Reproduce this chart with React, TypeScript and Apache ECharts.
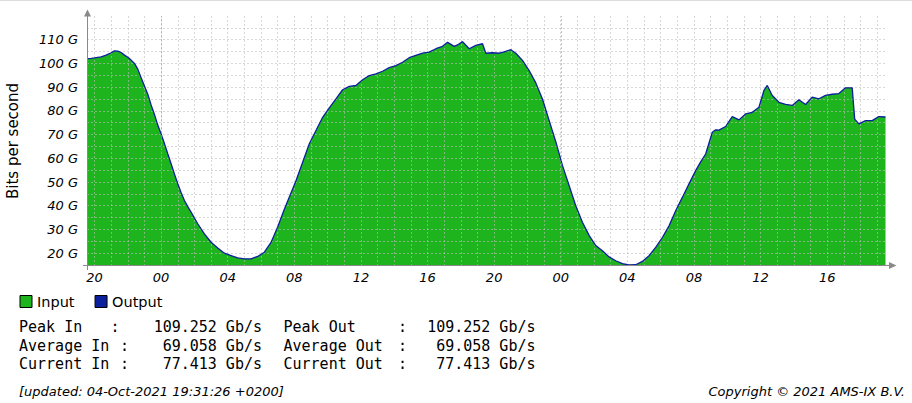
import React, { useEffect, useRef } from 'react';
import * as echarts from 'echarts';

// Time in hours counted from 02-Oct-2021 00:00 (so 24 = 03-Oct 00:00, 48 = 04-Oct 00:00)
const hours = [
  19.55, 19.8, 20.0, 20.4, 20.7, 21.0, 21.2, 21.4, 21.6, 21.8, 22.0, 22.2, 22.4, 22.6, 22.8,
  23.0, 23.2, 23.4, 23.6, 23.8, 24.0, 24.2, 24.4, 24.6, 24.8, 25.0, 25.2, 25.4, 25.6, 25.8,
  26.0, 26.2, 26.6, 27.0, 27.4, 27.8, 28.2, 28.6, 29.0, 29.4, 29.8, 30.2, 30.6, 31.0, 31.4,
  31.75, 32.1, 32.5, 32.9, 33.3, 33.7, 34.1, 34.5, 34.9, 35.3, 35.7, 36.1, 36.5, 36.9, 37.3,
  37.7, 38.1, 38.5, 38.9, 39.3, 39.7, 40.1, 40.5, 40.9, 41.2, 41.6, 41.8, 42.1, 42.5, 42.9,
  43.3, 43.5, 43.9, 44.3, 44.6, 45.0, 45.3, 45.7, 46.1, 46.5, 46.9, 47.3, 47.7, 48.1, 48.5,
  48.9, 49.3, 49.7, 50.1, 50.5, 50.9, 51.3, 51.7, 52.1, 52.5, 52.9, 53.3, 53.7, 54.1, 54.5,
  54.9, 55.3, 55.7, 56.1, 56.4, 56.7, 57.1, 57.3, 57.5, 57.9, 58.3, 58.7, 59.1, 59.5, 59.9,
  60.2, 60.4, 60.7, 61.1, 61.5, 61.9, 62.3, 62.7, 63.1, 63.5, 63.9, 64.3, 64.7, 65.1, 65.5,
  65.65, 65.9, 66.3, 66.7, 67.1, 67.5,
];

// Input traffic in Gb/s
const inputGbps = [
  102.0, 102.1, 102.3, 102.8, 103.5, 104.5, 105.3, 105.2, 104.6, 103.5, 102.6, 101.4, 100.0, 97.6, 94.0,
  90.5, 87.0, 82.5, 78.5, 74.0, 70.3, 66.2, 61.9, 57.7, 53.4, 49.3, 45.6, 42.2, 39.6, 37.3,
  34.8, 32.4, 28.1, 24.6, 22.2, 20.0, 19.0, 18.0, 17.6, 17.6, 18.6, 20.4, 24.5, 31.0, 38.5,
  44.5, 50.5, 58.3, 66.1, 71.7, 77.3, 81.3, 85.1, 88.9, 90.3, 90.7, 93.1, 94.9, 95.6, 96.7,
  98.2, 99.1, 100.5, 102.4, 103.4, 104.3, 104.8, 106.2, 107.2, 108.9, 107.2, 107.8, 109.2, 106.2, 107.6,
  108.3, 104.3, 104.5, 104.3, 104.9, 105.8, 104.3, 101.3, 97.0, 91.8, 85.0, 76.0, 67.0, 57.0, 48.5,
  40.0, 33.0, 27.5, 23.2, 21.0, 18.4, 16.8, 15.6, 15.0, 15.1, 16.5, 18.9, 22.4, 26.6, 31.5,
  37.9, 43.5, 49.2, 54.8, 58.5, 61.8, 71.0, 72.0, 71.9, 73.4, 77.6, 76.2, 78.7, 79.4, 81.5,
  88.6, 90.7, 86.5, 83.6, 82.7, 82.3, 84.7, 82.7, 85.8, 85.1, 86.5, 87.0, 87.3, 89.7, 89.7,
  76.5, 74.5, 75.9, 75.9, 77.6, 77.4,
];

// Output traffic in Gb/s (identical to input: same peak, average and current)
const outputGbps = inputGbps;

const midnightHours = [24, 48];
const xLabelHours = [20, 24, 28, 32, 36, 40, 44, 48, 52, 56, 60, 64];
const yLabelValues = [20, 30, 40, 50, 60, 70, 80, 90, 100, 110];

const statLabelsIn = ['Peak In', 'Average In', 'Current In'];
const statValuesIn = [109.252, 69.058, 77.413];
const statLabelsOut = ['Peak Out', 'Average Out', 'Current Out'];
const statValuesOut = [109.252, 69.058, 77.413];

const updatedText = '[updated: 04-Oct-2021 19:31:26 +0200]';
const copyrightText = 'Copyright \u00a9 2021 AMS-IX B.V.';

const GREEN = '#1db41d';
const BLUE = '#0c1f9c';
const AXIS = '#8a8a8a';
const SANS = 'DejaVu Sans';
const MONO = 'DejaVu Sans Mono';

export default function App() {
  const ref = useRef<HTMLDivElement>(null);

  useEffect(() => {
    if (!ref.current) return;
    const chart = echarts.init(ref.current, undefined, { renderer: 'svg' });

    const inputData = hours.map((h, i) => [h, inputGbps[i]]);
    const outputData = hours.map((h, i) => [h, outputGbps[i]]);

    const gridLineStyle = { color: 'rgba(190,190,190,0.6)', width: 1, type: [2, 2] as any };

    const rowY = [327, 345.5, 364];
    const colonXIn = [115, 124.5, 124.5];
    const statsGraphics: any[] = [];
    statLabelsIn.forEach((lab, i) => {
      const base = { fontFamily: MONO, fontSize: 15, fill: '#000', verticalAlign: 'middle' };
      statsGraphics.push(
        { type: 'text', x: 19, y: rowY[i], style: { ...base, text: lab, align: 'left' } },
        { type: 'text', x: colonXIn[i], y: rowY[i], style: { ...base, text: ':', align: 'center' } },
        { type: 'text', x: 262, y: rowY[i], style: { ...base, text: statValuesIn[i].toFixed(3) + ' Gb/s', align: 'right' } },
        { type: 'text', x: 283.5, y: rowY[i], style: { ...base, text: statLabelsOut[i], align: 'left' } },
        { type: 'text', x: 402.5, y: rowY[i], style: { ...base, text: ':', align: 'center' } },
        { type: 'text', x: 535.5, y: rowY[i], style: { ...base, text: statValuesOut[i].toFixed(3) + ' Gb/s', align: 'right' } },
      );
    });

    const option: any = {
      animation: false,
      backgroundColor: '#ffffff',
      grid: [
        { left: 87, top: 16, width: 798.5, height: 249, outerBoundsMode: 'none', containLabel: false },
        { left: 94.5, top: 16, width: 782.6, height: 249, outerBoundsMode: 'none', containLabel: false },
      ],
      xAxis: [
        {
          type: 'value', gridIndex: 0, min: 19.55, max: 67.5,
          axisLine: { show: false }, axisTick: { show: false }, axisLabel: { show: false }, splitLine: { show: false },
        },
        {
          type: 'value', gridIndex: 1, min: 20, max: 67, interval: 1, z: 3,
          axisLine: { show: false }, axisTick: { show: false },
          axisLabel: {
            show: true, margin: 6, fontFamily: SANS, fontStyle: 'italic', fontSize: 13, color: '#000',
            showMinLabel: true, showMaxLabel: true, hideOverlap: false,
            formatter: (v: number) => (xLabelHours.includes(Math.round(v)) ? String(Math.round(v) % 24).padStart(2, '0') : ''),
          },
          splitLine: { show: true, showMinLine: true, showMaxLine: true, lineStyle: gridLineStyle },
        },
      ],
      yAxis: [
        {
          type: 'value', gridIndex: 0, min: 15, max: 120, interval: 5, z: 3,
          axisLine: { show: false }, axisTick: { show: false },
          axisLabel: {
            show: true, margin: 9, fontFamily: SANS, fontStyle: 'italic', fontSize: 13, color: '#000',
            showMinLabel: true, showMaxLabel: true, hideOverlap: false,
            formatter: (v: number) => (yLabelValues.includes(Math.round(v)) ? `${Math.round(v)} G` : ''),
          },
          splitLine: { show: true, showMinLine: false, showMaxLine: false, lineStyle: gridLineStyle },
        },
        { type: 'value', gridIndex: 1, min: 0, max: 1, show: false, splitLine: { show: false } },
      ],
      legend: {
        left: 19.5, top: 294, padding: 0, itemWidth: 12, itemHeight: 12, itemGap: 20, icon: 'rect', selectedMode: false,
        textStyle: { fontFamily: SANS, fontSize: 14.5, color: '#000' },
        data: [
          { name: 'Input', itemStyle: { color: GREEN, borderColor: '#000', borderWidth: 1 } },
          { name: 'Output', itemStyle: { color: BLUE, borderColor: '#000', borderWidth: 1 } },
        ],
      },
      series: [
        {
          name: 'Input', type: 'line', xAxisIndex: 0, yAxisIndex: 0, data: inputData,
          symbol: 'none', showSymbol: false, silent: true, z: 2,
          lineStyle: { width: 0, color: GREEN }, itemStyle: { color: GREEN },
          areaStyle: { color: GREEN, opacity: 1, origin: 'start' },
        },
        {
          name: 'Output', type: 'line', xAxisIndex: 0, yAxisIndex: 0, data: outputData,
          symbol: 'none', showSymbol: false, silent: true, z: 4,
          lineStyle: { width: 1.3, color: BLUE }, itemStyle: { color: BLUE },
          markLine: {
            silent: true, symbol: ['none', 'none'], label: { show: false },
            lineStyle: { color: 'rgba(150,150,150,0.6)', type: [2, 2], width: 1 },
            data: midnightHours.map((h) => ({ xAxis: h })),
          },
        },
      ],
      graphic: [
        { type: 'line', z: 10, shape: { x1: 0, y1: 0.5, x2: 912, y2: 0.5 }, style: { stroke: '#dcdcdc', lineWidth: 1 } },
        { type: 'line', z: 10, shape: { x1: 87.5, y1: 270, x2: 87.5, y2: 15 }, style: { stroke: AXIS, lineWidth: 1 } },
        { type: 'polygon', z: 10, shape: { points: [[84, 16.5], [91, 16.5], [87.5, 9.5]] }, style: { fill: AXIS } },
        { type: 'line', z: 10, shape: { x1: 83, y1: 265.5, x2: 890, y2: 265.5 }, style: { stroke: AXIS, lineWidth: 1 } },
        { type: 'polygon', z: 10, shape: { points: [[889, 262], [889, 269], [896.5, 265.5]] }, style: { fill: AXIS } },
        {
          type: 'text', x: 12.5, y: 141, rotation: Math.PI / 2,
          style: { text: 'Bits per second', fontFamily: SANS, fontSize: 15, fill: '#000', align: 'center', verticalAlign: 'middle' },
        },
        ...statsGraphics,
        {
          type: 'text', x: 19, y: 391.5,
          style: { text: updatedText, fontFamily: SANS, fontStyle: 'italic', fontSize: 13, fill: '#000', align: 'left', verticalAlign: 'middle' },
        },
        {
          type: 'text', x: 905, y: 391.5,
          style: { text: copyrightText, fontFamily: SANS, fontStyle: 'italic', fontSize: 13, fill: '#000', align: 'right', verticalAlign: 'middle' },
        },
      ],
    };

    chart.setOption(option);
    return () => chart.dispose();
  }, []);

  return (
    <div
      ref={ref}
      style={{ position: 'absolute', left: 0, top: 0, width: 912, height: 403, background: '#fff' }}
    />
  );
}
